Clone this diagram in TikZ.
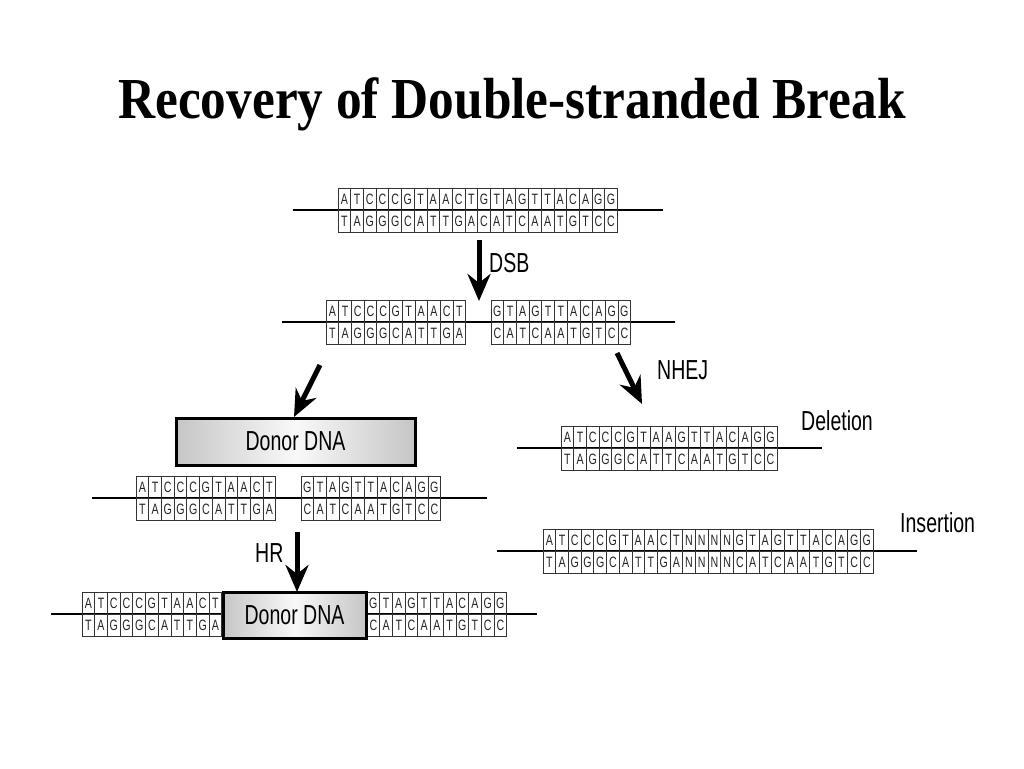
\documentclass[tikz,border=0pt]{standalone}
\usepackage{fontspec}
\usetikzlibrary{arrows.meta}
\newfontfamily\labfont[FakeStretch=0.71]{Liberation Sans}
\newfontfamily\titlefont[FakeStretch=0.885]{Liberation Serif}
\newcommand\cellfont{\labfont\fontsize{15}{16}\selectfont}
\newcommand\bigfont{\labfont\fontsize{27.5}{30}\selectfont}
\newcommand\dnastrand[5]{%
  \foreach \c [count=\i] in {#4} {
    \node[cell] (#1t\i) at ({#2+(\i-0.5)*12.7},{#3-11}) {\c};
  }
  \foreach \c [count=\i] in {#5} {
    \node[cell] (#1b\i) at ({#2+(\i-0.5)*12.7},{#3+11}) {\c};
  }
}
\tikzset{
  cell/.style={draw=black!80, line width=0.7pt, minimum width=12.7pt, minimum height=22pt,
    inner sep=0pt, outer sep=0pt, font=\cellfont, text=black!85},
  backbone/.style={line width=1.3pt, black},
  bigarrow/.style={line width=5pt, -{Stealth[length=27pt,width=23pt,inset=9pt]}},
  label/.style={font=\bigfont, inner sep=0pt},
  donor/.style={draw, line width=3pt, left color=gray!45, right color=gray!45,
    middle color=gray!5, font=\bigfont, inner sep=0pt},
}
\begin{document}
\begin{tikzpicture}[x=1pt,y=-1pt]
\useasboundingbox (0,0) rectangle (1024,768);
\fill[white] (0,0) rectangle (1024,768);

% title
\node[font={\titlefont\bfseries\fontsize{58}{60}\selectfont}, anchor=base, inner sep=0pt] (title) at (512,118) {Recovery of Double-stranded Break};

% backbone lines
\coordinate (l1a) at (293,210); \coordinate (l1b) at (663,210);
\coordinate (l2a) at (282,322); \coordinate (l2b) at (675,322);
\coordinate (l3a) at (517,448); \coordinate (l3b) at (822,448);
\coordinate (l4a) at (497,551); \coordinate (l4b) at (917,551);
\coordinate (l5a) at (92,498);  \coordinate (l5b) at (487,498);
\coordinate (l6a) at (51,614);  \coordinate (l6b) at (537,614);
\draw[backbone] (l1a) -- (l1b);
\draw[backbone] (l2a) -- (l2b);
\draw[backbone] (l3a) -- (l3b);
\draw[backbone] (l4a) -- (l4b);
\draw[backbone] (l5a) -- (l5b);
\draw[backbone] (l6a) -- (l6b);

% strands
\dnastrand{top}{338}{210}{A,T,C,C,C,G,T,A,A,C,T,G,T,A,G,T,T,A,C,A,G,G}{T,A,G,G,G,C,A,T,T,G,A,C,A,T,C,A,A,T,G,T,C,C}
\dnastrand{sl}{326}{322}{A,T,C,C,C,G,T,A,A,C,T}{T,A,G,G,G,C,A,T,T,G,A}
\dnastrand{sr}{491}{322}{G,T,A,G,T,T,A,C,A,G,G}{C,A,T,C,A,A,T,G,T,C,C}
\dnastrand{del}{561}{448}{A,T,C,C,C,G,T,A,A,G,T,T,A,C,A,G,G}{T,A,G,G,G,C,A,T,T,C,A,A,T,G,T,C,C}
\dnastrand{ins}{543}{551}{A,T,C,C,C,G,T,A,A,C,T,N,N,N,N,G,T,A,G,T,T,A,C,A,G,G}{T,A,G,G,G,C,A,T,T,G,A,N,N,N,N,C,A,T,C,A,A,T,G,T,C,C}
\dnastrand{ml}{136}{498}{A,T,C,C,C,G,T,A,A,C,T}{T,A,G,G,G,C,A,T,T,G,A}
\dnastrand{mr}{301}{498}{G,T,A,G,T,T,A,C,A,G,G}{C,A,T,C,A,A,T,G,T,C,C}
\dnastrand{bl}{82}{614}{A,T,C,C,C,G,T,A,A,C,T}{T,A,G,G,G,C,A,T,T,G,A}
\dnastrand{br}{367}{614}{G,T,A,G,T,T,A,C,A,G,G}{C,A,T,C,A,A,T,G,T,C,C}

% donor boxes
\node[donor, minimum width=239pt, minimum height=47pt] (donor1) at (295.5,441.5) {Donor DNA};
\node[donor, minimum width=143pt, minimum height=46pt] (donor2) at (294.5,615) {Donor DNA};

% arrows
\coordinate (a1s) at (479,240); \coordinate (a1e) at (479,301);
\coordinate (a2s) at (617,353); \coordinate (a2e) at (642,404);
\coordinate (a3s) at (320,365); \coordinate (a3e) at (294,417);
\coordinate (a4s) at (297,532); \coordinate (a4e) at (297,592);
\draw[bigarrow] (a1s) -- (a1e);
\draw[bigarrow] (a2s) -- (a2e);
\draw[bigarrow] (a3s) -- (a3e);
\draw[bigarrow] (a4s) -- (a4e);

% labels
\node[label, anchor=west] (dsb) at (489,263) {DSB};
\node[label, anchor=west] (nhej) at (657,370) {NHEJ};
\node[label, anchor=west] (delet) at (801,421) {Deletion};
\node[label, anchor=west] (insert) at (900,523) {Insertion};
\node[label, anchor=west] (hr) at (255,553) {HR};
\end{tikzpicture}
\end{document}
